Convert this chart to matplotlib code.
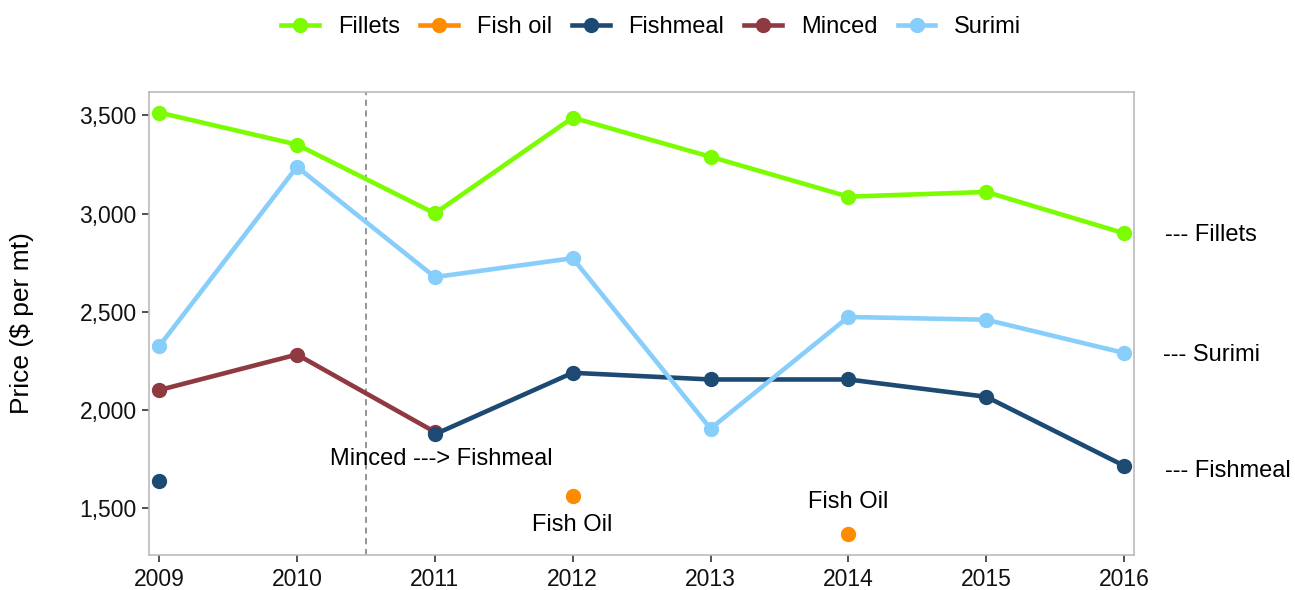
import numpy as np
import matplotlib.pyplot as plt

plt.rcParams["font.family"] = ["Liberation Sans", "DejaVu Sans"]

years = [2009, 2010, 2011, 2012, 2013, 2014, 2015, 2016]
nan = np.nan

# prices in $ per mt
fillets = [3514, 3351, 3001, 3488, 3289, 3086, 3110, 2900]
fish_oil = [nan, nan, nan, 1561, nan, 1370, nan, nan]
fishmeal = [1641, nan, 1877, 2190, 2156, 2156, 2068, 1717]
minced = [2102, 2283, 1889, nan, nan, nan, nan, nan]
surimi = [2325, 3238, 2677, 2773, 1906, 2474, 2460, 2291]

colors = {
    "Fillets": "#7CFC00",
    "Fish oil": "#FF8C00",
    "Fishmeal": "#1D4A72",
    "Minced": "#8E3A40",
    "Surimi": "#87CEFA",
}

fig = plt.figure(figsize=(12.95, 5.9), dpi=100)
ax = fig.add_axes([0.1151, 0.0593, 0.7606, 0.7856])

ax.axvline(2010.5, color="#777777", linestyle=(0, (4, 3)), linewidth=1.1, zorder=1)

kw = dict(linewidth=3.3, marker="o", markersize=10)
ax.plot(years, fillets, color=colors["Fillets"], label="Fillets", **kw)
ax.plot(years, fish_oil, color=colors["Fish oil"], label="Fish oil", **kw)
ax.plot(years, fishmeal, color=colors["Fishmeal"], label="Fishmeal", zorder=2, **kw)
ax.plot(years, minced, color=colors["Minced"], label="Minced", zorder=1.9, **kw)
ax.plot(years, surimi, color=colors["Surimi"], label="Surimi", **kw)

fs = 17
ax.text(2011.05, 1750, "Minced ---> Fishmeal", ha="center", va="center", fontsize=fs)
ax.text(2012, 1416, "Fish Oil", ha="center", va="center", fontsize=fs)
ax.text(2014, 1532, "Fish Oil", ha="center", va="center", fontsize=fs)

for txt, xv, yv in [("--- Fillets", 2016.30, 2890), ("--- Surimi", 2016.28, 2282),
                    ("--- Fishmeal", 2016.30, 1688)]:
    ax.text(xv, yv, txt, ha="left", va="center", fontsize=fs, clip_on=False)

ax.set_xlim(2008.927, 2016.072)
ax.set_ylim(1263, 3621)
ax.set_xticks(years)
ax.set_yticks([1500, 2000, 2500, 3000, 3500])
ax.set_yticklabels(["1,500", "2,000", "2,500", "3,000", "3,500"])
ax.tick_params(labelsize=16.5, length=5, width=1.2, color="#333333",
               labelcolor="#111111", pad=4)
ax.set_ylabel("Price ($ per mt)", fontsize=19)
ax.yaxis.label.set_va("center")
ax.yaxis.set_label_coords(-0.129, 0.5)

for s in ax.spines.values():
    s.set_color("#bbbbbb")
    s.set_linewidth(1.2)

fig.legend(loc="center", bbox_to_anchor=(0.503, 0.954), ncol=5, frameon=False,
           fontsize=17, handlelength=1.6, columnspacing=0.85, handletextpad=0.8)

fig.savefig("out.png", dpi=100)
